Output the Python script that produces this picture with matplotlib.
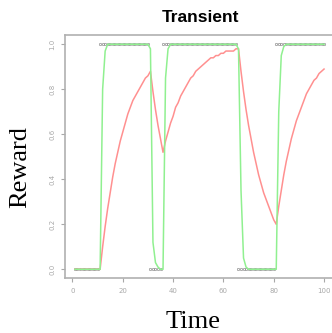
import numpy as np
import matplotlib
matplotlib.use('Agg')
import matplotlib.pyplot as plt

# time steps 1..100
time = np.arange(1, 101)

# observed reward (0/1) at each step
reward = [0, 0, 0, 0, 0, 0, 0, 0, 0, 0,
          1, 1, 1, 1, 1, 1, 1, 1, 1, 1,
          1, 1, 1, 1, 1, 1, 1, 1, 1, 1,
          0, 0, 0, 0, 0, 1, 1, 1, 1, 1,
          1, 1, 1, 1, 1, 1, 1, 1, 1, 1,
          1, 1, 1, 1, 1, 1, 1, 1, 1, 1,
          1, 1, 1, 1, 1, 0, 0, 0, 0, 0,
          0, 0, 0, 0, 0, 0, 0, 0, 0, 0,
          1, 1, 1, 1, 1, 1, 1, 1, 1, 1,
          1, 1, 1, 1, 1, 1, 1, 1, 1, 1]

# slow estimate (red curve)
slow = [0.00, 0.00, 0.00, 0.00, 0.00, 0.00, 0.00, 0.00, 0.00, 0.00,
        0.00, 0.10, 0.19, 0.27, 0.34, 0.41, 0.47, 0.52, 0.57, 0.61,
        0.65, 0.69, 0.72, 0.75, 0.77, 0.79, 0.81, 0.83, 0.85, 0.86,
        0.88, 0.79, 0.71, 0.64, 0.58, 0.52, 0.57, 0.61, 0.65, 0.68,
        0.72, 0.74, 0.77, 0.79, 0.81, 0.83, 0.85, 0.86, 0.88, 0.89,
        0.90, 0.91, 0.92, 0.93, 0.94, 0.94, 0.95, 0.95, 0.96, 0.96,
        0.97, 0.97, 0.97, 0.97, 0.98, 0.98, 0.88, 0.79, 0.71, 0.64,
        0.58, 0.52, 0.47, 0.42, 0.38, 0.34, 0.31, 0.28, 0.25, 0.22,
        0.20, 0.28, 0.35, 0.42, 0.48, 0.53, 0.58, 0.62, 0.66, 0.69,
        0.72, 0.75, 0.78, 0.80, 0.82, 0.84, 0.85, 0.87, 0.88, 0.89]

# fast estimate (green curve)
fast = [0.00, 0.00, 0.00, 0.00, 0.00, 0.00, 0.00, 0.00, 0.00, 0.00,
        0.00, 0.80, 0.97, 1.00, 1.00, 1.00, 1.00, 1.00, 1.00, 1.00,
        1.00, 1.00, 1.00, 1.00, 1.00, 1.00, 1.00, 1.00, 1.00, 1.00,
        0.98, 0.12, 0.03, 0.01, 0.00, 0.00, 0.85, 0.98, 1.00, 1.00,
        1.00, 1.00, 1.00, 1.00, 1.00, 1.00, 1.00, 1.00, 1.00, 1.00,
        1.00, 1.00, 1.00, 1.00, 1.00, 1.00, 1.00, 1.00, 1.00, 1.00,
        1.00, 1.00, 1.00, 1.00, 1.00, 0.98, 0.35, 0.05, 0.01, 0.00,
        0.00, 0.00, 0.00, 0.00, 0.00, 0.00, 0.00, 0.00, 0.00, 0.00,
        0.00, 0.70, 0.95, 0.99, 1.00, 1.00, 1.00, 1.00, 1.00, 1.00,
        1.00, 1.00, 1.00, 1.00, 1.00, 1.00, 1.00, 1.00, 1.00, 1.00]

xticks = [0, 20, 40, 60, 80, 100]
yticks = [0.0, 0.2, 0.4, 0.6, 0.8, 1.0]

fig = plt.figure(figsize=(3.32, 3.33), dpi=100)
ax = fig.add_axes([65/332, 54.7/333, 269/332, 243/333])

ax.plot(time, reward, 'o', ms=1.7, mfc='none', mec='#909090', mew=0.5)
ax.plot(time, slow, color='#ff9090', lw=1.1)
ax.plot(time, fast, color='#90f090', lw=1.1)

ax.set_xlim(-2.96, 103.96)
ax.set_ylim(-0.04, 1.04)
ax.set_xticks(xticks)
ax.set_xticklabels([str(v) for v in xticks])
ax.set_yticks(yticks)
ax.set_yticklabels(['%.1f' % v for v in yticks], rotation=90, va='center')
ax.tick_params(direction='out', length=3, width=0.8, colors='#a8a8a8',
               labelsize=5, pad=4)
for s in ax.spines.values():
    s.set_color('#b0b0b0')
    s.set_linewidth(1.2)

fig.text(200/332, 1 - 18/333, 'Transient', ha='center', va='center',
         fontsize=12.5, fontweight='bold', family='Liberation Sans')
fig.text(20/332, 1 - 167/333, 'Reward', ha='center', va='center',
         rotation=90, fontsize=19, family='Liberation Serif')
fig.text(193/332, 1 - 322/333, 'Time', ha='center', va='center',
         fontsize=19, family='Liberation Serif')

fig.savefig('out.png', dpi=100)
